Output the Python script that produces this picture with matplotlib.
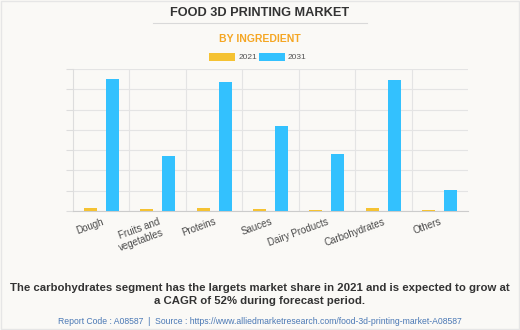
import numpy as np
import matplotlib.pyplot as plt
from matplotlib.patches import Rectangle

plt.rcParams['font.family'] = ['Liberation Sans', 'DejaVu Sans']

# Segmenty rynku i wartości (jednostki względne)
categories = ['Dough', 'Fruits and\nvegetables', 'Proteins', 'Sauces',
              'Dairy Products', 'Carbohydrates', 'Others']
values_2021 = [0.15, 0.08, 0.15, 0.08, 0.05, 0.15, 0.05]
values_2031 = [6.5, 2.71, 6.35, 4.19, 2.82, 6.45, 1.03]
series_labels = ['2021', '2031']

color_2021 = '#f5c232'
color_2031 = '#33c1fe'
bg = '#faf9f6'

fig = plt.figure(figsize=(5.2, 3.3), dpi=100, facecolor=bg)
ax = fig.add_axes([0.1404, 0.3606, 0.7596, 0.4303], facecolor=bg)

x = np.arange(len(categories))
width = 0.23
offset = 0.195
ax.bar(x - offset, values_2021, width, color=color_2021, zorder=3)
ax.bar(x + offset, values_2031, width, color=color_2031, zorder=3)

ax.set_xlim(-0.5, len(categories) - 0.5)
ax.set_ylim(0, 7)
ax.set_yticks(np.arange(0, 8, 1))
ax.set_yticklabels([])
ax.grid(axis='y', color='#e4e4e4', linewidth=0.8, zorder=0)
for b in np.arange(0.5, len(categories) - 0.5, 1):
    ax.axvline(b, color='#e4e4e4', linewidth=0.8, zorder=0)

ax.set_xticks(x)
ax.set_xticklabels(categories, rotation=20, ha='right', rotation_mode='anchor',
                   fontsize=7, color='#4a4a4a')
ax.tick_params(axis='x', length=0, pad=4)
ax.tick_params(axis='y', length=5, color='#dddddd')
for side in ['top', 'right']:
    ax.spines[side].set_visible(False)
ax.spines['left'].set_color('#dddddd')
ax.spines['bottom'].set_color('#cccccc')

# Nagłówki
fig.text(0.5, 0.962, 'FOOD 3D PRINTING MARKET', ha='center', va='center',
         fontsize=9.2, fontweight='bold', color='#333333')
fig.add_artist(plt.Line2D([0.294, 0.706], [0.93, 0.93], color='#d9d9d9', linewidth=0.8))
fig.text(0.5, 0.882, 'BY INGREDIENT', ha='center', va='center',
         fontsize=7.5, fontweight='bold', color='#f5a623')

# Legenda
ly = 0.827
for px, lab, col in [(0.402, series_labels[0], color_2021), (0.498, series_labels[1], color_2031)]:
    fig.add_artist(Rectangle((px, ly - 0.011), 0.05, 0.022, transform=fig.transFigure,
                             color=col, linewidth=0))
    fig.text(px + 0.056, ly, lab, ha='left', va='center', fontsize=6, color='#555555')

fig.text(0.5, 0.107, 'The carbohydrates segment has the largets market share in 2021 and is expected to grow at\n'
         'a CAGR of 52% during forecast period.', ha='center', va='center',
         fontsize=8.2, fontweight='bold', color='#333333', linespacing=1.3)
fig.text(0.5, 0.027, 'Report Code : A08587  |  Source : https://www.alliedmarketresearch.com/food-3d-printing-market-A08587',
         ha='center', va='center', fontsize=6.2, color='#4a78b5')

fig.add_artist(Rectangle((0.002, 0.003), 0.996, 0.994, transform=fig.transFigure,
                         fill=False, edgecolor='#e6e6e6', linewidth=1))

fig.savefig('out.png', dpi=100, facecolor=bg)
